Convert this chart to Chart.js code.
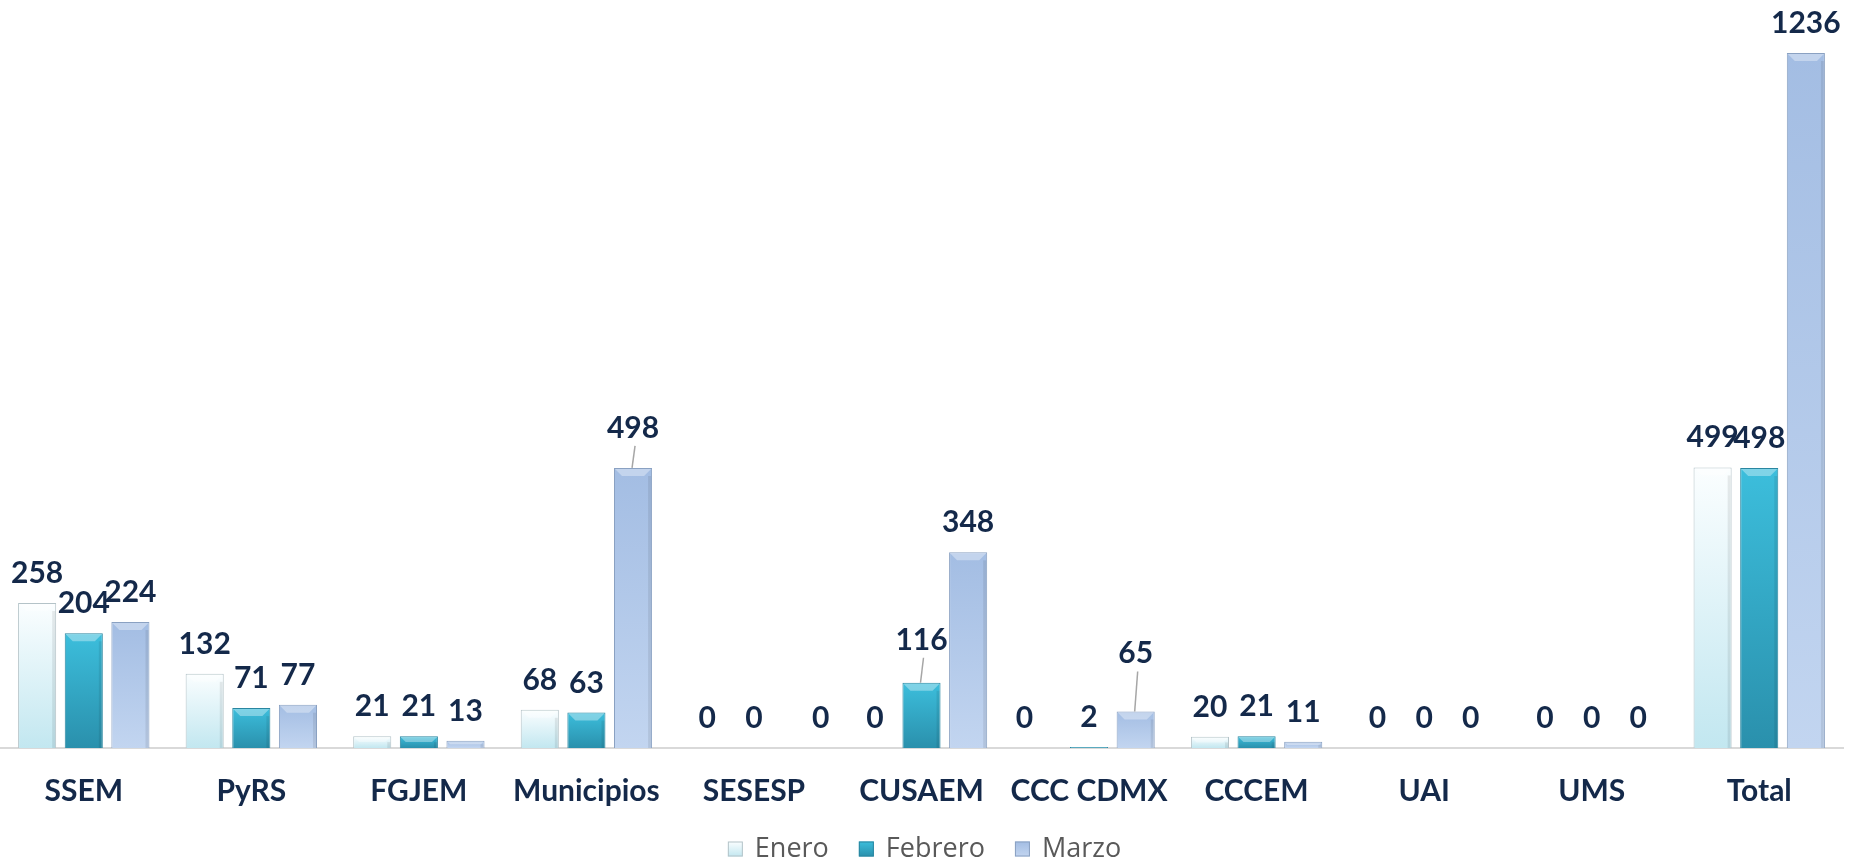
<!DOCTYPE html>
<html lang="es">
<head>
<meta charset="utf-8">
<title>Chamados por dependencia</title>
<script src="https://cdn.jsdelivr.net/npm/chart.js@4.4.1/dist/chart.umd.min.js"></script>
<style>
    html, body { margin: 0; padding: 0; background: #ffffff; }
    #wrap { width: 1849px; height: 862px; position: relative; }
</style>
</head>
<body>
<div id="wrap"><canvas id="grafico"></canvas></div>
<script>
// Datos del gráfico
const categorias = ['SSEM', 'PyRS', 'FGJEM', 'Municipios', 'SESESP', 'CUSAEM', 'CCC CDMX', 'CCCEM', 'UAI', 'UMS', 'Total'];
const meses = ['Enero', 'Febrero', 'Marzo'];
const enero = [258, 132, 21, 68, 0, 0, 0, 20, 0, 0, 499];
const febrero = [204, 71, 21, 63, 0, 116, 2, 21, 0, 0, 498];
const marzo = [224, 77, 13, 498, 0, 348, 65, 11, 0, 0, 1236];

const COLOR_TEXTO = '#14294a';

// colores por serie: [arriba, abajo, borde]
const paletas = [
    ['#fbfeff', '#c2e7f0', '#b4c3c8'],
    ['#3cbedc', '#2a90ac', '#2a86a0'],
    ['#a3bde3', '#c2d5f0', '#8aa1c2']
];

// etiquetas que Excel movió a mano (serie-indice): desplazamiento y línea guía
const ajustesEtiqueta = {
    '2-3': { lift: 30, guia: true },
    '1-5': { lift: 33, guia: true },
    '2-6': { lift: 48, guia: true },
    '2-4': { dx: 20 },
    '0-6': { dx: -18 }
};

function degradado(ctx, serie) {
    const chart = ctx.chart;
    const p = paletas[serie];
    const y = chart.scales && chart.scales.y;
    if (!y || !chart.chartArea) return p[1];
    const valor = ctx.raw || 0;
    const top = y.getPixelForValue(valor);
    const base = y.getPixelForValue(0);
    if (base - top < 1) return p[1];
    const g = chart.ctx.createLinearGradient(0, top, 0, base);
    g.addColorStop(0, p[0]);
    g.addColorStop(1, p[1]);
    return g;
}

const pluginEtiquetas = {
    id: 'etiquetasValor',
    afterDatasetsDraw(chart) {
        const ctx = chart.ctx;
        ctx.save();
        ctx.font = 'bold 30px Lato, "Open Sans", sans-serif';
        ctx.fillStyle = COLOR_TEXTO;
        ctx.textAlign = 'center';
        ctx.textBaseline = 'alphabetic';
        chart.data.datasets.forEach((ds, i) => {
            const meta = chart.getDatasetMeta(i);
            meta.data.forEach((bar, j) => {
                const aj = ajustesEtiqueta[i + '-' + j] || {};
                const lift = aj.lift || 20;
                const x = bar.x + (aj.dx || 0);
                const y = bar.y - lift;
                ctx.fillText(String(ds.data[j]), x, y);
                if (aj.guia) {
                    ctx.beginPath();
                    ctx.strokeStyle = '#a6a6a6';
                    ctx.lineWidth = 1.5;
                    ctx.moveTo(bar.x + 2, y + 8);
                    ctx.lineTo(bar.x - 1, bar.y);
                    ctx.stroke();
                }
            });
        });
        ctx.restore();
    }
};

// pequeño bisel en la parte superior de cada barra
const pluginBisel = {
    id: 'bisel',
    afterDatasetsDraw(chart) {
        const ctx = chart.ctx;
        ctx.save();
        chart.data.datasets.forEach((ds, i) => {
            chart.getDatasetMeta(i).data.forEach(bar => {
                const h = bar.base - bar.y;
                if (h < 4) return;
                const w = bar.width;
                const b = Math.min(8, h / 2);
                const x0 = bar.x - w / 2, x1 = bar.x + w / 2;
                ctx.fillStyle = 'rgba(255,255,255,0.35)';
                ctx.beginPath();
                ctx.moveTo(x0 + 1, bar.y + 1);
                ctx.lineTo(x1 - 1, bar.y + 1);
                ctx.lineTo(x1 - b, bar.y + b);
                ctx.lineTo(x0 + b, bar.y + b);
                ctx.closePath();
                ctx.fill();
                ctx.fillStyle = 'rgba(0,0,0,0.08)';
                ctx.fillRect(x1 - 4, bar.y + b, 3, h - b);
            });
        });
        ctx.restore();
    }
};

// leyenda inferior dibujada a mano para controlar espaciado
const pluginLeyenda = {
    id: 'leyendaInferior',
    afterDraw(chart) {
        const ctx = chart.ctx;
        const caja = 15, separacion = 12, entreItems = 30;
        const yc = chart.height - 13;
        ctx.save();
        ctx.font = '27px "Open Sans", Lato, sans-serif';
        ctx.textBaseline = 'middle';
        const anchos = meses.map(m => caja + separacion + ctx.measureText(m).width);
        const total = anchos.reduce((a, b) => a + b, 0) + entreItems * (meses.length - 1);
        let x = chart.width / 2 - total / 2;
        meses.forEach((m, i) => {
            const p = paletas[i];
            const g = ctx.createLinearGradient(0, yc - caja / 2, 0, yc + caja / 2);
            g.addColorStop(0, p[0]);
            g.addColorStop(1, p[1]);
            ctx.fillStyle = g;
            ctx.fillRect(x, yc - caja / 2, caja, caja);
            ctx.strokeStyle = p[2];
            ctx.lineWidth = 1;
            ctx.strokeRect(x + 0.5, yc - caja / 2 + 0.5, caja - 1, caja - 1);
            ctx.fillStyle = '#595959';
            ctx.fillText(m, x + caja + separacion, yc);
            x += anchos[i] + entreItems;
        });
        ctx.restore();
    }
};

const series = [enero, febrero, marzo];

new Chart(document.getElementById('grafico'), {
    type: 'bar',
    data: {
        labels: categorias,
        datasets: series.map((valores, i) => ({
            label: meses[i],
            data: valores,
            backgroundColor: ctx => degradado(ctx, i),
            borderColor: paletas[i][2],
            borderWidth: 1,
            categoryPercentage: 0.835,
            barPercentage: 0.817
        }))
    },
    options: {
        responsive: true,
        maintainAspectRatio: false,
        animation: false,
        layout: { padding: { top: 17, left: 0, right: 6, bottom: 36 } },
        scales: {
            y: {
                display: false,
                min: 0,
                max: 1300
            },
            x: {
                grid: { display: false },
                border: { display: true, color: '#d9d9d9', width: 2 },
                ticks: {
                    color: COLOR_TEXTO,
                    font: { family: 'Lato, "Open Sans", sans-serif', size: 30, weight: 'bold' },
                    padding: 17,
                    maxRotation: 0
                }
            }
        },
        plugins: {
            legend: { display: false },
            tooltip: { enabled: false }
        }
    },
    plugins: [pluginBisel, pluginEtiquetas, pluginLeyenda]
});
</script>
</body>
</html>
